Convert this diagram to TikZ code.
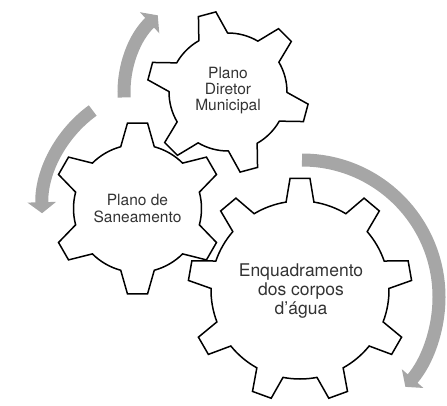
\documentclass[tikz,border=0pt]{standalone}
\usepackage{fontspec}
\setmainfont{TeX Gyre Heros}
\usetikzlibrary{arrows.meta}
\tikzset{
  gear/.style={draw=black, line width=1.5pt, line join=miter},
  gearlabel/.style={text=black!80, align=center},
  turn/.style={line width=13pt, draw=black!35, line cap=butt, -{Triangle[width=28pt,length=11pt]}},
}
% center x, center y, teeth, first angle, tip radius, root radius, tip half angle, base half angle
\newcommand{\drawgear}[8]{%
  \pgfmathsetmacro{\gstep}{360/#3}
  \draw[gear, shift={(#1,#2)}] (#4-#8:#6pt)
    \foreach \k [evaluate=\k as \a using #4+(\k-1)*\gstep] in {1,...,#3} {
      -- ({\a-#8}:#6pt) -- ({\a-#7}:#5pt) -- ({\a+#7}:#5pt) -- ({\a+#8}:#6pt)
      arc[start angle={\a+#8}, end angle={\a+\gstep-#8}, radius=#6pt]
    } -- cycle;
}

\begin{document}
\begin{tikzpicture}[x=1pt, y=1pt]
\useasboundingbox (0,0) rectangle (447,405);
\coordinate (dc) at (228,313);
\coordinate (sc) at (165,195);
\coordinate (ec) at (302,108);
% arrows
\draw[turn] ([shift={(183:104pt)}]dc) arc[start angle=183, end angle=132.5, radius=104pt];
\draw[turn] ([shift={(126:123pt)}]sc) arc[start angle=126, end angle=181.5, radius=123pt];
\draw[turn] ([shift={(90:137pt)}]ec) arc[start angle=90, end angle=-41, radius=137pt];
% gears
\drawgear{137.5}{196.5}{6}{90}{86}{64}{6.7}{15.2}
\drawgear{228}{313}{6}{105}{81}{59}{6.4}{14.6}
\drawgear{300}{115}{9}{90}{112}{89}{5.1}{9}
% labels
\node[gearlabel, font=\fontsize{15.5}{17}\selectfont] (saneamento) at (137.5,196.5) {Plano de\\Saneamento};
\node[gearlabel, font=\fontsize{15.5}{16}\selectfont] (diretor) at (228,314) {Plano\\Diretor\\Municipal};
\node[gearlabel, font=\fontsize{17.5}{19}\selectfont] (enquadramento) at (301,114) {Enquadramento\\dos corpos\\d’água};
\end{tikzpicture}
\end{document}
